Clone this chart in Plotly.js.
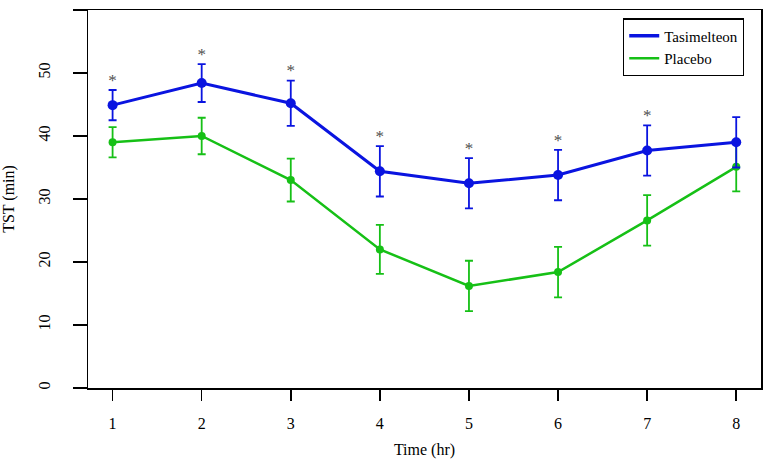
<!DOCTYPE html>
<html>
<head>
<meta charset="utf-8">
<script src="https://cdn.plot.ly/plotly-3.0.1.min.js"></script>
<style>
  html, body { margin: 0; padding: 0; background: #ffffff; }
  #myChart { width: 765px; height: 461px; }
</style>
</head>
<body>
<div id="myChart"></div>
<script>
// values
const hours = [1, 2, 3, 4, 5, 6, 7, 8];
const tasimelteon = [44.9, 48.4, 45.2, 34.4, 32.5, 33.8, 37.7, 39.0];
const tasimelteon_err = [2.4, 3.0, 3.6, 4.0, 4.0, 4.0, 4.0, 4.0];
const placebo = [39.0, 40.0, 33.0, 22.0, 16.2, 18.4, 26.6, 35.1];
const placebo_err = [2.4, 2.9, 3.4, 3.9, 4.0, 4.0, 4.0, 3.9];
const significant = [true, true, true, true, true, true, true, false];
const y_ticks = [0, 10, 20, 30, 40, 50, 60];

const BLUE = '#0a14e0';
const GREEN = '#16c016';
const FONT = '"Liberation Serif", serif';

const trace_placebo = {
    x: hours,
    y: placebo,
    type: 'scatter',
    mode: 'lines+markers',
    name: 'Placebo',
    showlegend: false,
    line: { color: GREEN, width: 2.5 },
    marker: { color: GREEN, size: 8 },
    error_y: { type: 'data', array: placebo_err, visible: true, color: GREEN, thickness: 1.8, width: 4 }
};

const trace_tas = {
    x: hours,
    y: tasimelteon,
    type: 'scatter',
    mode: 'lines+markers',
    name: 'Tasimelteon',
    showlegend: false,
    line: { color: BLUE, width: 3 },
    marker: { color: BLUE, size: 10 },
    error_y: { type: 'data', array: tasimelteon_err, visible: true, color: BLUE, thickness: 1.8, width: 4 }
};

// stars sit just above the upper end of the Tasimelteon error bars
let star_x = [];
let star_y = [];
for (let i = 0; i < hours.length; i++) {
    if (significant[i]) {
        star_x.push(hours[i]);
        star_y.push(tasimelteon[i] + tasimelteon_err[i]);
    }
}

const trace_stars = {
    x: star_x,
    y: star_y,
    type: 'scatter',
    mode: 'text',
    text: star_x.map(() => '*'),
    textposition: 'top center',
    textfont: { family: FONT, size: 17, color: '#505050' },
    showlegend: false,
    hoverinfo: 'skip'
};

// legend-only entries so the key shows plain lines
const legend_tas = {
    x: [null], y: [null], type: 'scatter', mode: 'lines',
    name: 'Tasimelteon', line: { color: BLUE, width: 3.5 }
};
const legend_pla = {
    x: [null], y: [null], type: 'scatter', mode: 'lines',
    name: 'Placebo', line: { color: GREEN, width: 2.5 }
};

const layout = {
    width: 765,
    height: 461,
    margin: { l: 88, r: 4, t: 10, b: 73 },
    paper_bgcolor: '#ffffff',
    plot_bgcolor: '#ffffff',
    font: { family: FONT, size: 15, color: '#000000' },
    showlegend: true,
    legend: {
        x: 0.795, y: 0.978, xanchor: 'left', yanchor: 'top',
        bordercolor: '#000000', borderwidth: 1.2,
        bgcolor: '#ffffff',
        font: { family: FONT, size: 15, color: '#000000' },
        tracegroupgap: 0
    },
    xaxis: {
        range: [0.724, 8.278],
        tickvals: hours,
        ticks: 'outside', ticklen: 11, tickwidth: 1.5, tickcolor: '#000000',
        ticklabelstandoff: 9,
        showgrid: false, zeroline: false,
        showline: true, mirror: true, linecolor: '#000000', linewidth: 1.5,
        tickfont: { family: FONT, size: 16 },
        title: { text: 'Time (hr)', font: { family: FONT, size: 16 }, standoff: 13 }
    },
    yaxis: {
        range: [0, 60],
        tickvals: y_ticks,
        tickangle: -90,
        ticks: 'outside', ticklen: 14, tickwidth: 1.5, tickcolor: '#000000',
        ticklabelstandoff: 16,
        showgrid: false, zeroline: false,
        showline: true, mirror: true, linecolor: '#000000', linewidth: 1.5,
        tickfont: { family: FONT, size: 16 },
        title: { text: 'TST (min)', font: { family: FONT, size: 16 }, standoff: 18 }
    },
    hovermode: false
};

Plotly.newPlot('myChart', [trace_placebo, trace_tas, trace_stars, legend_tas, legend_pla], layout, { displayModeBar: false, staticPlot: true });
</script>
</body>
</html>
